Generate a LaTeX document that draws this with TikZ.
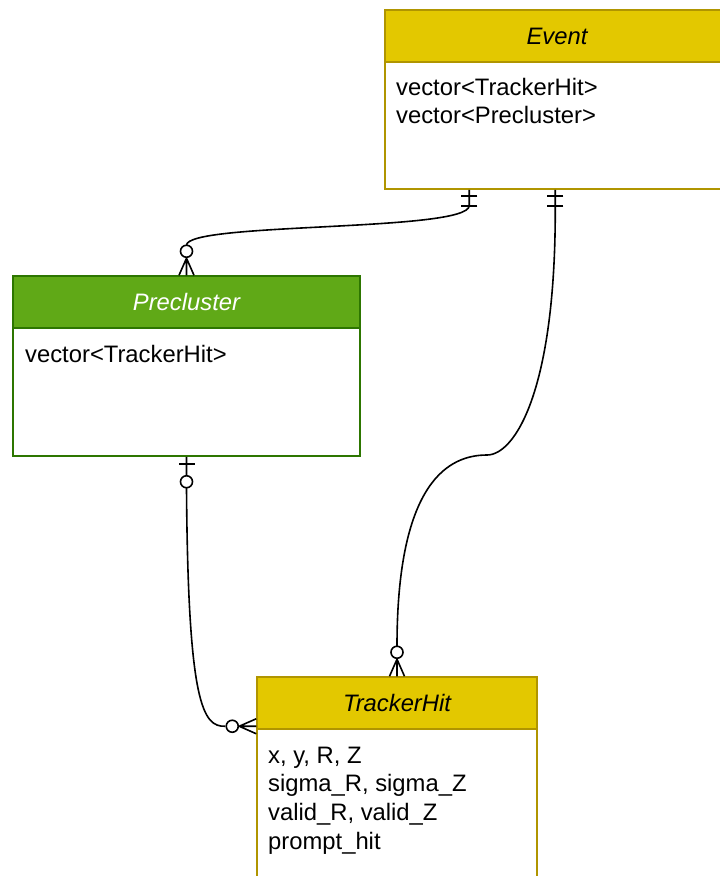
\documentclass[tikz,border=0pt]{standalone}
\usepackage{fontspec}
\setmainfont{Liberation Sans}
\usetikzlibrary{calc}

\definecolor{evfill}{HTML}{E3C800}
\definecolor{evline}{HTML}{B09500}
\definecolor{prfill}{HTML}{60A917}
\definecolor{prline}{HTML}{2D7600}

\newcommand{\erfont}{\fontsize{23.8}{28.8}\selectfont}

\tikzset{
  entitybody/.style={draw=#1, line width=1.5pt, fill=white, rectangle, inner sep=0pt},
  entityhead/.style={draw=#1, line width=1.5pt, rectangle, inner sep=0pt, minimum height=52pt,
    font=\erfont\itshape},
  attrs/.style={font=\erfont, align=left, inner sep=0pt, anchor=north west},
  conn/.style={line width=1.6pt, black},
  % crow's foot with a ring (zero or many); origin on the entity edge
  pics/zeromany/.style={code={
    \draw[conn] (0,-17) -- (-7.5,0) (0,-17) -- (7.5,0) (0,-17) -- (0,0);
    \draw[conn, fill=white] (0,-24) circle (6pt);
  }},
  % two bars (exactly one)
  pics/mandone/.style={code={
    \draw[conn] (-8,-6) -- (8,-6) (-8,-16) -- (8,-16);
  }},
  % bar and ring (zero or one)
  pics/zeroone/.style={code={
    \draw[conn] (-8,-7) -- (8,-7);
    \draw[conn, fill=white] (0,-25) circle (6pt);
  }},
}

\begin{document}
\begin{tikzpicture}[x=1pt, y=-1pt]
\useasboundingbox (0,0) rectangle (720,876);

% Event
\node[entitybody=evline, minimum width=344pt, minimum height=179pt] (ev) at (557,99.5) {};
\node[entityhead=evline, fill=evfill, minimum width=344pt, text=black] (evh) at (557,36) {Event};
\node[attrs] (eva) at (396,74.8) {\strut vector<TrackerHit>\\\strut vector<Precluster>};

% Precluster
\node[entitybody=prline, minimum width=347pt, minimum height=180pt] (pre) at (186.5,366) {};
\node[entityhead=prline, fill=prfill, minimum width=347pt, text=white] (preh) at (186.5,302) {Precluster};
\node[attrs] (prea) at (25,341.8) {\strut vector<TrackerHit>};

% TrackerHit
\node[entitybody=evline, minimum width=280pt, minimum height=223pt] (th) at (397,788.5) {};
\node[entityhead=evline, fill=evfill, minimum width=280pt, text=black] (thh) at (397,703) {TrackerHit};
\node[attrs] (tha) at (268,742.8) {\strut x, y, R, Z\\\strut sigma\_R, sigma\_Z\\\strut valid\_R, valid\_Z\\\strut prompt\_hit};

% connector end points
\coordinate (eA) at ([xshift=85pt]ev.south west);
\coordinate (eB) at ([xshift=171pt]ev.south west);
\coordinate (thL) at ([yshift=-50pt]th.north west);
\coordinate (bend) at (487,455);

% Event -- Precluster
\draw[conn] (eA) -- ([yshift=-16pt]eA)
  .. controls (468,232) and (186.5,222) .. ([yshift=30pt]pre.north);
% Event -- TrackerHit
\draw[conn] (eB) -- ([yshift=-16pt]eB)
  .. controls (556,390) and (515,455) .. (bend)
  .. controls (450,455) and (397,480) .. ([yshift=30pt]th.north);
% Precluster -- TrackerHit
\draw[conn] (pre.south) -- ([yshift=-31pt]pre.south)
  .. controls (188,705) and (203,727) .. ([xshift=-31pt]thL);

% relationship markers
\pic[rotate=180] at (eA) {mandone};
\pic[rotate=180] at (eB) {mandone};
\pic at (pre.north) {zeromany};
\pic[rotate=180] at (pre.south) {zeroone};
\pic at (th.north) {zeromany};
\pic[rotate=90] at (thL) {zeromany};
\end{tikzpicture}
\end{document}
